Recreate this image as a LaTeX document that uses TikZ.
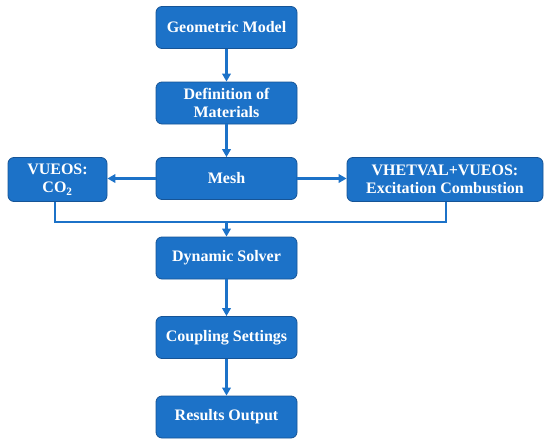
\documentclass[tikz,border=0pt]{standalone}
\usepackage{fontspec}
\setmainfont{Liberation Serif}
\usetikzlibrary{arrows.meta}
\definecolor{boxblue}{RGB}{28,114,200}
\definecolor{edgeblue}{RGB}{22,84,150}
\begin{document}
\begin{tikzpicture}[x=1pt,y=-1pt,
    stage/.style={draw=edgeblue,line width=0.8pt,fill=boxblue,rounded corners=6pt,
        minimum width=141pt,minimum height=42pt,align=center,text=white,
        font=\fontsize{16}{18.5}\selectfont\bfseries,inner sep=2pt},
    flow/.style={draw=boxblue,line width=2.2pt,-{Triangle[length=8pt,width=8.5pt]}}]
    \useasboundingbox (0,0) rectangle (550,445);

    % Hauptkette
    \node[stage] (geo) at (226.5,27.5) {Geometric Model};
    \node[stage] (mat) at (226.5,103) {Definition of\\Materials};
    \node[stage] (mesh) at (226.5,178.5) {Mesh};
    \node[stage] (solver) at (226.5,258) {Dynamic Solver};
    \node[stage] (coupling) at (226.5,337.5) {Coupling Settings};
    \node[stage] (results) at (226.5,417) {Results Output};

    % Seitenzweige
    \node[stage,minimum width=99pt,minimum height=44pt] (co2) at (57.5,179.5) {VUEOS:\\CO\textsubscript{2}};
    \node[stage,minimum width=196pt,minimum height=44pt] (comb) at (445,179.5) {VHETVAL+VUEOS:\\Excitation Combustion};

    % Verbindungen
    \draw[flow] (geo) -- (mat);
    \draw[flow] (mat) -- (mesh);
    \draw[flow] (mesh.west) -- (mesh.west -| co2.east);
    \draw[flow] (mesh.east) -- (mesh.east -| comb.west);
    \coordinate (join) at (226.5,222);
    \draw[draw=boxblue,line width=2.2pt] (co2.south -| 55,0) |- (join) -| (comb.south -| 446,0);
    \draw[flow] (join) -- (solver);
    \draw[flow] (solver) -- (coupling);
    \draw[flow] (coupling) -- (results);
\end{tikzpicture}
\end{document}
